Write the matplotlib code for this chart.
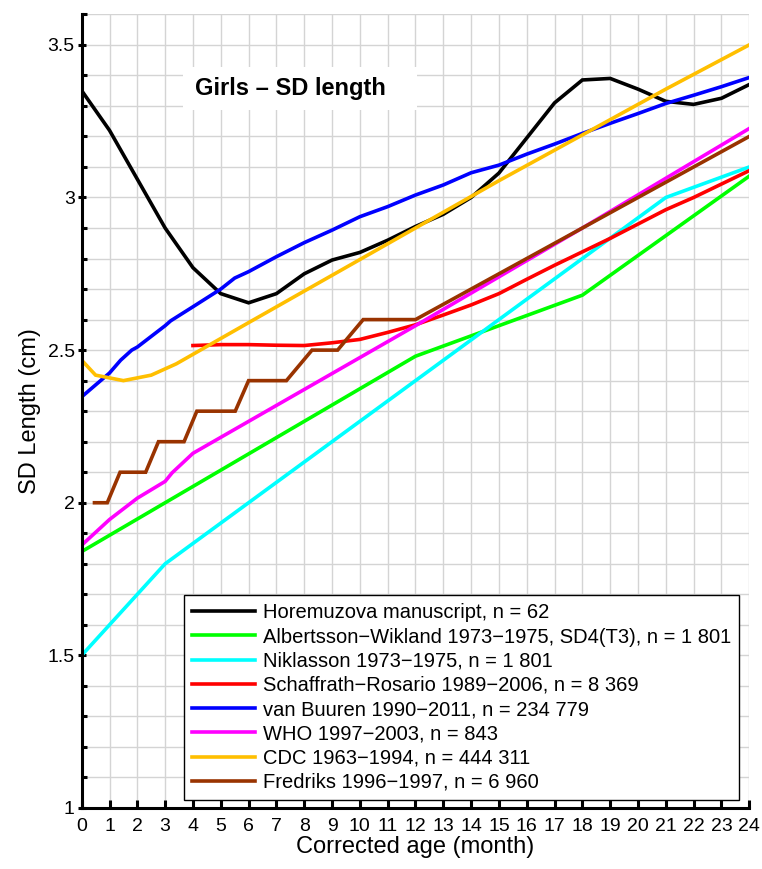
import matplotlib
matplotlib.use("Agg")
import matplotlib.pyplot as plt
from matplotlib.patches import Rectangle
from matplotlib.ticker import MultipleLocator

plt.rcParams["font.family"] = ["Liberation Sans", "DejaVu Sans"]

#
# data
#

# Horemuzova manuscript, n = 62
horemuzova_age = list(range(0, 25))
horemuzova_sd = [3.35, 3.22, 3.06, 2.90, 2.77, 2.685, 2.655, 2.685, 2.75, 2.795,
                 2.82, 2.86, 2.905, 2.945, 3.00, 3.08, 3.195, 3.31, 3.385, 3.39,
                 3.355, 3.315, 3.305, 3.325, 3.37]

# Albertsson-Wikland 1973-1975
albertsson_age = [0, 3, 6, 9, 12, 15, 18, 21, 24]
albertsson_sd = [1.84, 2.00, 2.16, 2.32, 2.48, 2.58, 2.68, 2.875, 3.07]

# Niklasson 1973-1975
niklasson_age = [0, 3, 6, 9, 12, 15, 18, 21, 24]
niklasson_sd = [1.50, 1.80, 2.00, 2.20, 2.40, 2.60, 2.80, 3.00, 3.10]

# Schaffrath-Rosario 1989-2006
schaffrath_age = list(range(4, 25))
schaffrath_sd = [2.515, 2.518, 2.518, 2.516, 2.515, 2.524, 2.535, 2.558, 2.583, 2.615,
                 2.648, 2.685, 2.732, 2.778, 2.822, 2.866, 2.913, 2.960, 3.000, 3.044,
                 3.088]

# van Buuren 1990-2011
vanbuuren_age = [0, 1, 1.4, 1.8, 2, 3, 3.2, 4, 5, 5.5, 6, 7, 8, 9, 10, 11, 12,
                 13, 14, 15, 16, 17, 18, 19, 20, 21, 22, 23, 24]
vanbuuren_sd = [2.347, 2.425, 2.467, 2.500, 2.510, 2.580, 2.596, 2.642, 2.700, 2.736,
                2.757, 2.806, 2.852, 2.893, 2.937, 2.970, 3.008, 3.041, 3.081, 3.106,
                3.142, 3.175, 3.210, 3.243, 3.275, 3.308, 3.335, 3.363, 3.393]

# WHO 1997-2003
who_age = [0, 1, 2, 3, 3.25, 4, 12, 18, 24]
who_sd = [1.861, 1.945, 2.015, 2.070, 2.098, 2.162, 2.580, 2.900, 3.226]

# CDC 1963-1994
cdc_age = [0, 0.5, 1.5, 2.5, 3.4, 6, 9, 12, 15, 18, 21, 24]
cdc_sd = [2.467, 2.418, 2.400, 2.418, 2.455, 2.590, 2.745, 2.900, 3.055, 3.205, 3.355, 3.500]

# Fredriks 1996-1997 (stepped)
fredriks_age = [0.46, 0.92, 1.38, 2.3, 2.76, 3.68, 4.14, 5.52, 6.0, 7.36, 8.28, 9.2,
                10.12, 12, 24]
fredriks_sd = [2.0, 2.0, 2.1, 2.1, 2.2, 2.2, 2.3, 2.3, 2.4, 2.4, 2.5, 2.5,
               2.6, 2.6, 3.2]

series = [
  (horemuzova_age, horemuzova_sd, "#000000", "Horemuzova manuscript, n = 62"),
  (albertsson_age, albertsson_sd, "#00ff00", "Albertsson\u2212Wikland 1973\u22121975, SD4(T3), n = 1 801"),
  (niklasson_age, niklasson_sd, "#00ffff", "Niklasson 1973\u22121975, n = 1 801"),
  (schaffrath_age, schaffrath_sd, "#ff0000", "Schaffrath\u2212Rosario 1989\u22122006, n = 8 369"),
  (vanbuuren_age, vanbuuren_sd, "#0000ff", "van Buuren 1990\u22122011, n = 234 779"),
  (who_age, who_sd, "#ff00ff", "WHO 1997\u22122003, n = 843"),
  (cdc_age, cdc_sd, "#ffbf00", "CDC 1963\u22121994, n = 444 311"),
  (fredriks_age, fredriks_sd, "#993300", "Fredriks 1996\u22121997, n = 6 960"),
]

#
# plot
#

fig = plt.figure(figsize=(7.62, 8.69), dpi=100)
ax = fig.add_axes([0.1072, 0.0702, 0.8761, 0.9133])

for (age, sd, color, label) in series:
  ax.plot(age, sd, color=color, lw=2.6, label=label, solid_joinstyle="miter")

ax.set_xlim(0, 24)
ax.set_ylim(1, 3.6)
ax.set_xticks(range(0, 25))
ax.set_yticks([1, 1.5, 2, 2.5, 3, 3.5])
ax.set_yticklabels(["1", "1.5", "2", "2.5", "3", "3.5"])
ax.yaxis.set_minor_locator(MultipleLocator(0.1))

# grid
ax.set_axisbelow(True)
ax.grid(True, which="major", axis="x", color="#d4d4d4", lw=1)
ax.grid(True, which="both", axis="y", color="#d4d4d4", lw=1)

# spines and ticks
for side in ["top", "right"]:
  ax.spines[side].set_visible(False)
for side in ["left", "bottom"]:
  ax.spines[side].set_linewidth(2.2)
ax.tick_params(axis="x", which="major", direction="in", length=6, width=2.2, pad=7, labelsize=14)
ax.tick_params(axis="y", which="major", direction="inout", length=6, width=2.2, pad=2, labelsize=14)
ax.tick_params(axis="y", which="minor", direction="in", length=3.5, width=2.2)

ax.set_xlabel("Corrected age (month)", fontsize=17, labelpad=1)
ax.set_ylabel("SD Length (cm)", fontsize=17, labelpad=5)

# title box inside plot
ax.add_patch(Rectangle((0.152, 0.879), 0.35, 0.055, transform=ax.transAxes,
                       facecolor="white", edgecolor="none", zorder=1.5))
ax.text(0.312, 0.9065, "Girls \u2013 SD length", transform=ax.transAxes,
        ha="center", va="center", fontsize=17, fontweight="bold", zorder=3)

leg = ax.legend(loc="lower right", bbox_to_anchor=(0.9846, 0.0101), borderaxespad=0,
                fontsize=14.5, frameon=True, fancybox=False, framealpha=1,
                edgecolor="black", handlelength=3.1, handletextpad=0.4,
                labelspacing=0.26, borderpad=0.4)
leg.get_frame().set_linewidth(1.0)

plt.savefig("out.png", dpi=100)
